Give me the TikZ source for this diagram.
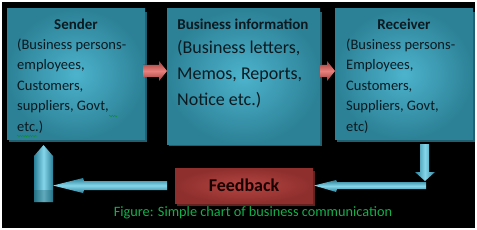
\documentclass[tikz,border=0pt]{standalone}
\usepackage{fontspec}
\setmainfont{Carlito}
\usetikzlibrary{decorations.pathmorphing}
\definecolor{boxout}{HTML}{2C8196}
\definecolor{boxin}{HTML}{4DB3CD}
\definecolor{boxshadow}{HTML}{1F6070}
\definecolor{txt}{HTML}{0B1A20}
\definecolor{redd}{HTML}{9E3A38}
\definecolor{redl}{HTML}{E8817E}
\definecolor{fbout}{HTML}{8E2F2D}
\definecolor{fbin}{HTML}{B54643}
\definecolor{bluad}{HTML}{2A8098}
\definecolor{blual}{HTML}{86D6EA}
\definecolor{capgreen}{HTML}{14B04A}
\tikzset{
  x=1pt,y=-1pt,
  tealbox/.style={inner sep=0pt, outer sep=0pt, shading=radial, inner color=boxin, outer color=boxout},
  shadowbox/.style={fill=boxshadow},
  bodytext/.style={inner sep=0pt, anchor=north west, align=left, text=txt},
  titletext/.style={inner sep=0pt, text=txt, font=\fontsize{15}{18}\selectfont\bfseries},
  redarrow/.style={top color=redd, bottom color=redd, middle color=redl},
  bluearrowh/.style={top color=bluad, bottom color=bluad, middle color=blual},
  bluearrowv/.style={left color=bluad, right color=bluad, middle color=blual},
  squiggle/.style={draw=capgreen!80!black, line width=0.5pt, decorate, decoration={snake, amplitude=0.7pt, segment length=2.5pt}}
}
\begin{document}
\begin{tikzpicture}
\fill[white] (0,0) rectangle (477,230);
\fill[black] (2,2) rectangle (475,228);
\useasboundingbox (0,0) rectangle (477,230);

% shadows
\fill[shadowbox] (9,12) rectangle (147,142);
\fill[shadowbox] (169,12) rectangle (322,146);
\fill[shadowbox] (337,12) rectangle (475,142);

% boxes
\node[tealbox, minimum width=138, minimum height=130] (sender) at (76,74) {};
\node[tealbox, minimum width=153, minimum height=135] (info) at (243.5,76.5) {};
\node[tealbox, minimum width=138, minimum height=130] (recv) at (404,74) {};

% sender text
\node[titletext] (sendert) at (76,24) {Sender};
\node[bodytext, font=\fontsize{14.5}{20.5}\selectfont] (senderb) at (17,38.5)
  {(Business persons-\\employees,\\Customers,\\suppliers, Govt,\\etc.)};
\draw[squiggle] (109,116) -- (117,116);
\draw[squiggle] (17,136) -- (37,136);

% info text
\node[titletext] (infot) at (243,24) {Business information};
\node[bodytext, font=\fontsize{18}{26}\selectfont] (infob) at (177,40)
  {(Business letters,\\Memos, Reports,\\Notice etc.)};

% receiver text
\node[titletext] (recvt) at (404,24) {Receiver};
\node[bodytext, font=\fontsize{14.5}{20.5}\selectfont] (recvb) at (346,38.5)
  {(Business persons-\\Employees,\\Customers,\\Suppliers, Govt,\\etc)};

% feedback
\fill[fbout!70!black] (177,171) rectangle (315,206);
\node[inner sep=0pt, minimum width=138, minimum height=35, shading=radial, inner color=fbin, outer color=fbout,
  font=\fontsize{18}{20}\selectfont\bfseries, text=black!90!red] (fb) at (244,185.5) {Feedback};

% red arrows
\fill[redarrow] (143,65) -- (159,65) -- (159,61) -- (167,71) -- (159,81) -- (159,77) -- (143,77) -- cycle;
\fill[redarrow] (320,65) -- (327,65) -- (327,61) -- (335,71) -- (327,81) -- (327,77) -- (320,77) -- cycle;

% down arrow from receiver
\fill[bluearrowv] (420,144) -- (429,144) -- (429,172) -- (435,172) -- (425,181) -- (415,172) -- (420,172) -- cycle;

% right bottom arrow into feedback
\fill[bluearrowh] (426,182) -- (426,189) -- (337,189) -- (336,192) -- (314,185.5) -- (336,180) -- (337,182) -- cycle;

% left bottom arrow from feedback
\fill[bluearrowh] (167,181) -- (167,190) -- (84,190) -- (83,193) -- (53,185.5) -- (83,178) -- (84,181) -- cycle;

% up arrow into sender
\fill[bluearrowv] (34,202) -- (34,156) -- (43.5,145) -- (53,156) -- (53,202) -- cycle;
\fill[bluad!70!black, opacity=0.35] (34,190) rectangle (53,202);

% caption
\node[inner sep=0pt, text=capgreen, font=\fontsize{14.3}{16}\selectfont] (cap) at (253,213) {Figure: Simple chart of business communication};
\end{tikzpicture}
\end{document}
